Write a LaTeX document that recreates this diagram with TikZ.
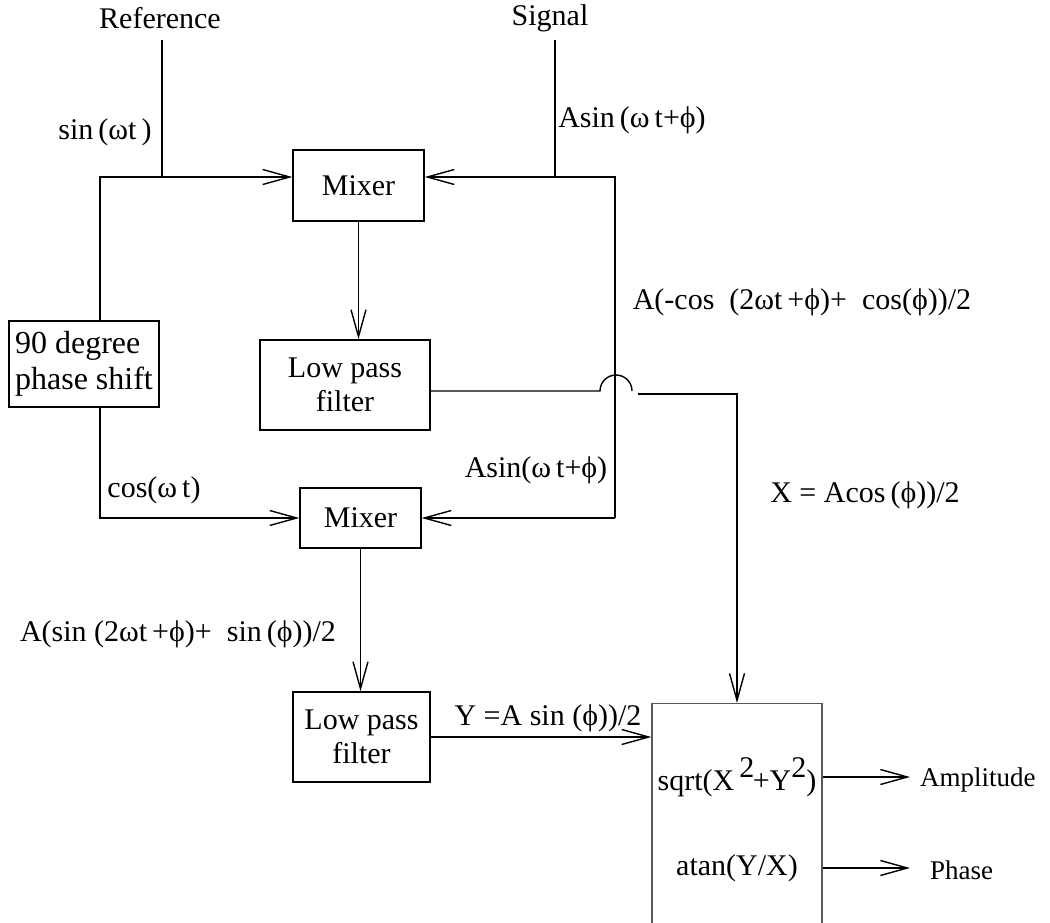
\documentclass[tikz,border=0pt]{standalone}
\usepackage{fontspec}
\setmainfont{Liberation Serif}
\usetikzlibrary{arrows.meta}
\begin{document}
\begin{tikzpicture}[x=1pt,y=1pt,
  every node/.style={font=\fontsize{30}{34}\selectfont, inner sep=0pt},
  blk/.style={draw, line width=1.4pt, align=center},
  wire/.style={line width=1.4pt},
  arr/.style={wire, -{Straight Barb[length=27pt,width=15pt,line width=1.4pt]}},
  lbl/.style={anchor=center}]
\useasboundingbox (0,0) rectangle (1050,-923);

% blocks
\node[blk, minimum width=131pt, minimum height=71pt] (mix1) at (358.5,-185.5) {Mixer};
\node[blk, minimum width=170pt, minimum height=90pt] (lpf1) at (345,-385) {Low pass\\filter};
\node[blk, align=left, font=\fontsize{32}{36}\selectfont, minimum width=150pt, minimum height=86pt] (shift) at (84,-364) {90 degree\\phase shift};
\node[blk, minimum width=121pt, minimum height=60pt] (mix2) at (360.5,-518) {Mixer};
\node[blk, minimum width=137pt, minimum height=90pt] (lpf2) at (361.5,-737) {Low pass\\filter};
\node[draw=black!65, line width=1.4pt, minimum width=170pt, minimum height=240pt, anchor=north] (calc) at (737,-703) {};
\node (sq) at (737,-777) {sqrt(X\,\raisebox{0.42em}{2}\kern-0.05em+Y\raisebox{0.42em}{2})};
\node (at) at (737,-868) {atan(Y/X)};

% junction points
\coordinate (refTop) at (162,-40);
\coordinate (refJ) at (162,-177);
\coordinate (lt) at (100,-177);
\coordinate (lb) at (100,-518);
\coordinate (sigTop) at (555,-40);
\coordinate (sigJ) at (555,-177);
\coordinate (rt) at (615,-177);
\coordinate (rb) at (615,-518);
\coordinate (hop) at (600,-391);
\coordinate (xdown) at (737,-394);
\coordinate (ampOut) at (910,-777);
\coordinate (phOut) at (910,-868);

% labels
\node[lbl] (lref) at (160,-18) {Reference};
\node[lbl] (lsig) at (550,-18) {Signal};
\node[lbl] (lsin) at (105,-132) {sin\,(ωt\,)};
\node[lbl] (lasin1) at (632,-120) {Asin\,(ω\,t+ϕ)};
\node[lbl] (lmix1) at (802,-302) {A(-cos\ \ (2ωt\,+ϕ)+\ \ cos(ϕ))/2};
\node[lbl] (lx) at (865,-495) {X = Acos\,(ϕ))/2};
\node[lbl] (lcos) at (154,-490) {cos(ω\,t)};
\node[lbl] (lasin2) at (536,-470) {Asin(ω\,t+ϕ)};
\node[lbl] (lmix2) at (178,-634) {A(sin\ (2ωt\,+ϕ)+\ \ sin\,(ϕ))/2};
\node[lbl] (ly) at (548,-718) {Y =A sin (ϕ))/2};
\node[lbl, anchor=west, font=\fontsize{27}{31}\selectfont] (lamp) at (920,-780) {Amplitude};
\node[lbl, anchor=west, font=\fontsize{27}{31}\selectfont] (lph) at (930,-870) {Phase};

% reference path and quadrature branch
\draw[wire] (refTop) -- (refJ);
\draw[arr] (shift.north -| lt) -- (lt) -- (mix1.west |- lt);
\draw[arr] (shift.south -| lb) -- (lb) -- (mix2.west);

% signal path
\draw[wire] (sigTop) -- (sigJ);
\draw[arr] (rb) -- (rt) -- (mix1.east |- rt);
\draw[arr] (rb) -- (mix2.east);

% mixers to filters
\draw[arr] (mix1.south) -- (lpf1.north -| mix1.south);
\draw[arr] (mix2.south) -- (lpf2.north -| mix2.south);

% filter outputs into the calculation block
\draw[wire] (lpf1.east |- hop) -- (hop) arc[start angle=180, end angle=0, radius=16pt];
\draw[arr] ([xshift=38pt]hop |- xdown) -- (xdown) -- (calc.north);
\draw[arr] (lpf2.east) -- (calc.west |- lpf2.east);

% outputs
\draw[arr] (calc.east |- sq) -- (ampOut);
\draw[arr] (calc.east |- at) -- (phOut);
\end{tikzpicture}
\end{document}
